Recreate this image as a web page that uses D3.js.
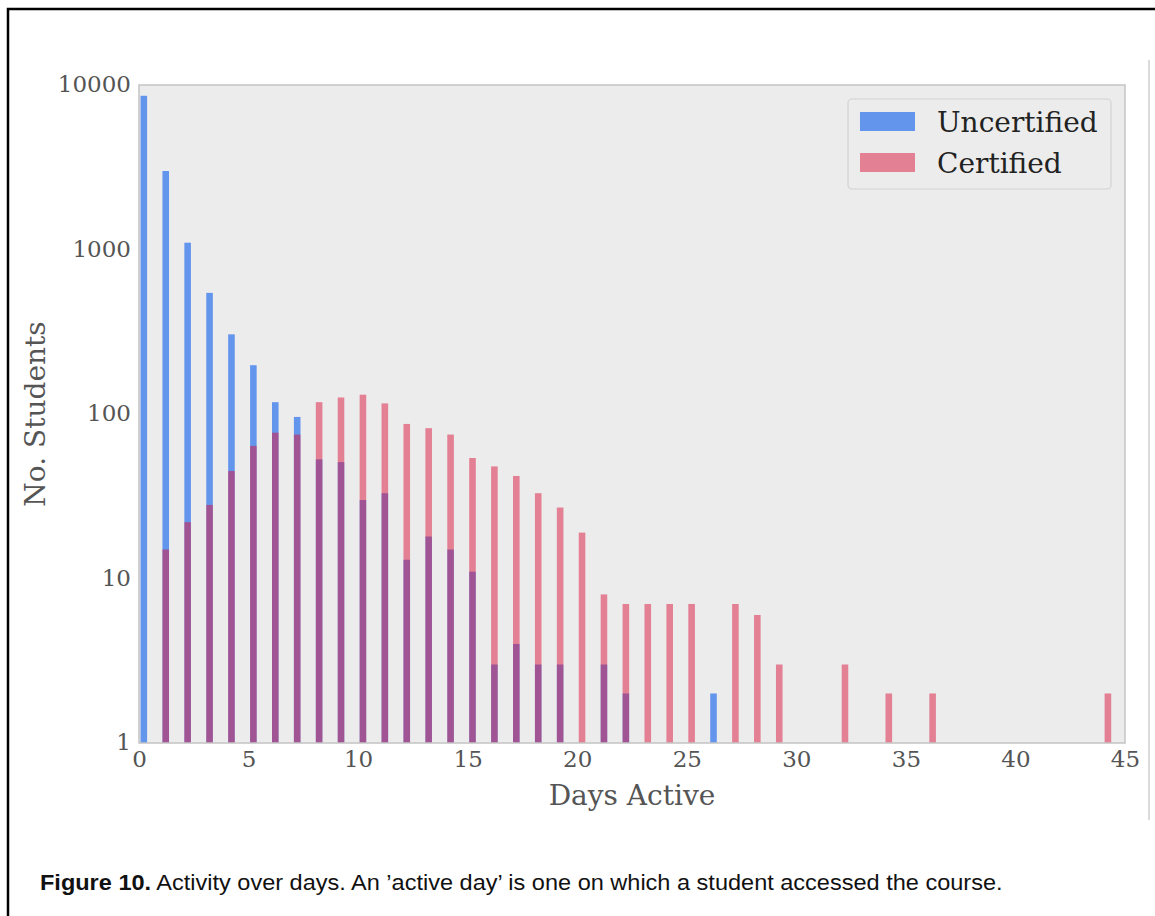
<!DOCTYPE html>
<html>
<head>
<meta charset="utf-8">
<script src="https://cdn.jsdelivr.net/npm/d3@7"></script>
<style>
  html, body { margin: 0; padding: 0; background: #ffffff; }
  svg { display: block; }
</style>
</head>
<body>
<svg id="fig" width="1155" height="916"></svg>
<script>
// Number of students by count of active days (day 0 .. 44)
const days = d3.range(0, 45);
const uncertified = [8600, 3000, 1100, 545, 305, 198, 118, 96, 53, 51,
                     30, 33, 13, 18, 15, 11, 3, 4, 3, 3,
                     0, 3, 2, 0, 0, 0, 2, 0, 0, 0,
                     0, 0, 0, 0, 0, 0, 0, 0, 0, 0,
                     0, 0, 0, 0, 0];
const certified = [0, 15, 22, 28, 45, 64, 77, 75, 118, 126,
                   131, 116, 87, 82, 75, 54, 48, 42, 33, 27,
                   19, 8, 7, 7, 7, 7, 0, 7, 6, 3,
                   0, 0, 3, 0, 2, 0, 2, 0, 0, 0,
                   0, 0, 0, 0, 2];
const xTicks = [0, 5, 10, 15, 20, 25, 30, 35, 40, 45];
const yTicks = [1, 10, 100, 1000, 10000];
const seriesNames = ["Uncertified", "Certified"];

const svg = d3.select("#fig");
const plot = { left: 139, right: 1125, top: 85, bottom: 743 };

const x = d3.scaleLinear().domain([0, 45]).range([plot.left, plot.right]);
const y = d3.scaleLog().domain([1, 10000]).range([plot.bottom, plot.top]);

const serif = "'DejaVu Serif', serif";
const barOffset = 0.07, barWidth = 0.3;

// page frame
svg.append("path")
  .attr("d", "M8,916 V9 H1155")
  .attr("fill", "none").attr("stroke", "#000").attr("stroke-width", 2.5);
svg.append("line")
  .attr("x1", 1149).attr("x2", 1149).attr("y1", 60).attr("y2", 820)
  .attr("stroke", "#cfcfcf").attr("stroke-width", 1.5);

// plot background
svg.append("rect")
  .attr("x", plot.left).attr("y", plot.top)
  .attr("width", plot.right - plot.left).attr("height", plot.bottom - plot.top)
  .attr("fill", "#ececec");

const bars = svg.append("g");
const drawSeries = (values, color, opacity) => {
  bars.append("g").selectAll("rect")
    .data(days.filter(d => values[d] > 0))
    .join("rect")
    .attr("x", d => x(d + barOffset))
    .attr("width", d => x(d + barOffset + barWidth) - x(d + barOffset))
    .attr("y", d => y(values[d]))
    .attr("height", d => y(1) - y(values[d]))
    .attr("fill", color)
    .attr("fill-opacity", opacity);
};
drawSeries(uncertified, "#6495ed", 1);
drawSeries(certified, "#dc143c", 0.5);

// plot border
svg.append("rect")
  .attr("x", plot.left).attr("y", plot.top)
  .attr("width", plot.right - plot.left).attr("height", plot.bottom - plot.top)
  .attr("fill", "none").attr("stroke", "#c4c4c4").attr("stroke-width", 1.5);

// axes
const yAxis = svg.append("g")
  .attr("transform", `translate(${plot.left},0)`)
  .call(d3.axisLeft(y).tickValues(yTicks).tickFormat(d3.format("d")).tickSize(0).tickPadding(8));
const xAxis = svg.append("g")
  .attr("transform", `translate(0,${plot.bottom})`)
  .call(d3.axisBottom(x).tickValues(xTicks).tickFormat(d3.format("d")).tickSize(0).tickPadding(8));
[xAxis, yAxis].forEach(a => {
  a.select(".domain").remove();
  a.selectAll("text")
    .attr("font-family", serif).attr("font-size", 23).attr("fill", "#555");
});
yAxis.selectAll("text").attr("dy", "0.3em");

// axis titles
svg.append("text")
  .attr("x", (plot.left + plot.right) / 2).attr("y", 805)
  .attr("text-anchor", "middle")
  .attr("font-family", serif).attr("font-size", 28).attr("fill", "#555")
  .text("Days Active");
svg.append("text")
  .attr("transform", `translate(45,${(plot.top + plot.bottom) / 2}) rotate(-90)`)
  .attr("text-anchor", "middle")
  .attr("font-family", serif).attr("font-size", 28).attr("fill", "#555")
  .text("No. Students");

// legend
const legend = svg.append("g");
legend.append("rect")
  .attr("x", 848).attr("y", 99).attr("width", 263).attr("height", 90)
  .attr("rx", 4)
  .attr("fill", "#ececec").attr("stroke", "#d2d2d2").attr("stroke-width", 1.2);
const legendColors = [["#6495ed", 1], ["#dc143c", 0.5]];
seriesNames.forEach((name, i) => {
  const yy = 112 + i * 41;
  legend.append("rect")
    .attr("x", 860).attr("y", yy).attr("width", 55).attr("height", 19)
    .attr("fill", legendColors[i][0]).attr("fill-opacity", legendColors[i][1]);
  legend.append("text")
    .attr("x", 937).attr("y", yy + 9.5).attr("dy", "0.36em")
    .attr("font-family", serif).attr("font-size", 28).attr("fill", "#222")
    .text(name);
});

// caption, narrowed horizontally to its column width
const capX = 40, capWidth = 963;
const cap = svg.append("text")
  .attr("x", capX).attr("y", 890)
  .attr("font-family", "'Liberation Sans', Arial, sans-serif")
  .attr("font-size", 22).attr("fill", "#111");
cap.append("tspan").attr("font-weight", "bold").text("Figure 10.");
cap.append("tspan").text(" Activity over days. An \u2019active day\u2019 is one on which a student accessed the course.");
const natural = cap.node().getComputedTextLength();
cap.attr("transform", `translate(${capX},0) scale(${capWidth / natural},1) translate(${-capX},0)`);
</script>
</body>
</html>
